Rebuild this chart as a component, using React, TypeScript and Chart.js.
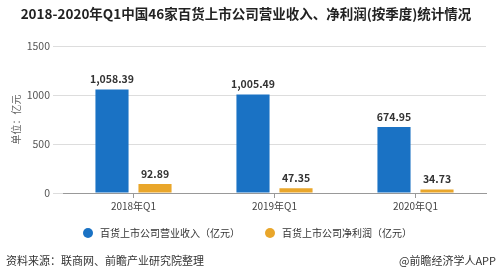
import React, { useEffect, useRef } from "react";
import { Chart, registerables } from "chart.js";

Chart.register(...registerables);

const categories = ["2018年Q1", "2019年Q1", "2020年Q1"];
const revenue = [1058.39, 1005.49, 674.95];
const profit = [92.89, 47.35, 34.73];
const seriesNames = ["百货上市公司营业收入（亿元）", "百货上市公司净利润（亿元）"];
const seriesColors = ["#1a72c4", "#e9a62a"];
const yTicks = [0, 500, 1000, 1500];
const titleText = "2018-2020年Q1中国46家百货上市公司营业收入、净利润(按季度)统计情况";
const sourceText = "资料来源：联商网、前瞻产业研究院整理";
const brandText = "@前瞻经济学人APP";

const FONT = "'Noto Sans CJK SC', 'Noto Sans', sans-serif";

const fmt = (v: number) =>
  v.toLocaleString("en-US", { minimumFractionDigits: 2, maximumFractionDigits: 2 });

const labelPlugin = {
  id: "valueLabels",
  afterDatasetsDraw(chart: any) {
    const ctx = chart.ctx;
    ctx.save();
    ctx.font = `bold 10.5px ${FONT}`;
    ctx.fillStyle = "#333";
    ctx.textAlign = "center";
    ctx.textBaseline = "bottom";
    chart.data.datasets.forEach((ds: any, i: number) => {
      const meta = chart.getDatasetMeta(i);
      meta.data.forEach((bar: any, j: number) => {
        ctx.fillText(fmt(ds.data[j]), bar.x, bar.y - 5);
      });
    });
    ctx.restore();
  },
};

const legendAndFooterPlugin = {
  id: "legendFooter",
  afterDraw(chart: any) {
    const ctx = chart.ctx;
    ctx.save();
    // legend
    ctx.font = `10px ${FONT}`;
    ctx.textBaseline = "middle";
    ctx.textAlign = "left";
    const ly = 233;
    const r = 5;
    const gap = 25;
    const items = chart.data.datasets.map((ds: any) => ({
      text: ds.label,
      color: ds.backgroundColor,
      w: r * 2 + 7 + ctx.measureText(ds.label).width,
    }));
    let x = 83;
    items.forEach((it: any) => {
      ctx.fillStyle = it.color;
      ctx.beginPath();
      ctx.arc(x + r, ly, r, 0, Math.PI * 2);
      ctx.fill();
      ctx.fillStyle = "#333";
      ctx.fillText(it.text, x + r * 2 + 7, ly);
      x += it.w + gap;
    });
    // footer
    ctx.font = `11px ${FONT}`;
    ctx.fillStyle = "#333";
    ctx.textAlign = "left";
    ctx.fillText(sourceText, 6, 261);
    ctx.textAlign = "right";
    ctx.fillText(brandText, 496, 261);
    ctx.restore();
  },
};

export default function App() {
  const ref = useRef<HTMLCanvasElement>(null);
  useEffect(() => {
    document.body.style.margin = "0";
    const chart = new Chart(ref.current!, {
      type: "bar",
      data: {
        labels: categories,
        datasets: [
          {
            label: seriesNames[0],
            data: revenue,
            backgroundColor: seriesColors[0],
            categoryPercentage: 0.61,
            barPercentage: 0.77,
          },
          {
            label: seriesNames[1],
            data: profit,
            backgroundColor: seriesColors[1],
            categoryPercentage: 0.61,
            barPercentage: 0.77,
          },
        ],
      },
      options: {
        responsive: false,
        animation: false,
        layout: { padding: { left: 6, right: 13, top: 4, bottom: 64 } },
        plugins: {
          title: {
            display: true,
            text: titleText,
            font: { family: FONT, size: 13.5, weight: "bold" },
            color: "#222",
            padding: { top: 2, bottom: 24 },
          },
          legend: { display: false },
          tooltip: { enabled: false },
        },
        scales: {
          x: {
            grid: {
              offset: false,
              drawOnChartArea: false,
              drawTicks: true,
              tickLength: 5,
              color: "#999",
            },
            border: { display: true, color: "#999" },
            ticks: { color: "#444", font: { family: FONT, size: 10 }, padding: 2 },
          },
          y: {
            min: 0,
            max: 1500,
            afterBuildTicks: (s: any) => {
              s.ticks = yTicks.map((v) => ({ value: v }));
            },
            afterFit: (s: any) => {
              s.width = 57;
            },
            grid: { color: "#dddddd", tickLength: 10 },
            border: { display: false },
            ticks: {
              color: "#555",
              font: { family: FONT, size: 10.5 },
              padding: 3,
              callback: (v: any) => String(v),
            },
            title: {
              display: true,
              text: "单位：亿元",
              color: "#666",
              font: { family: FONT, size: 10 },
              padding: { top: 4, bottom: 0 },
            },
          },
        },
      },
      plugins: [labelPlugin, legendAndFooterPlugin],
    });
    return () => chart.destroy();
  }, []);
  return (
    <div style={{ position: "absolute", left: 0, top: 0, width: 499, height: 278, background: "#fff" }}>
      <canvas ref={ref} width={499} height={278} style={{ width: 499, height: 278 }} />
    </div>
  );
}
